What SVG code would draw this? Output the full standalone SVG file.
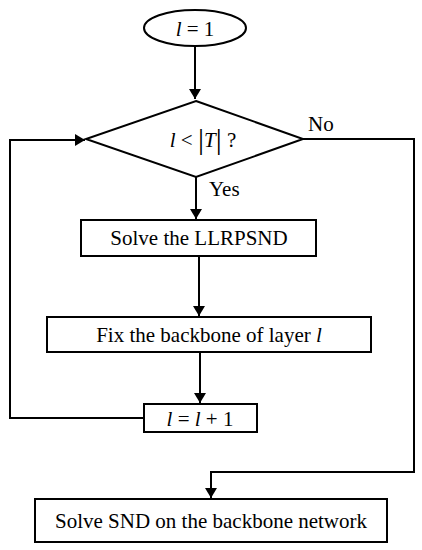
<svg xmlns="http://www.w3.org/2000/svg" width="422" height="550" viewBox="0 0 422 550">
<style>
.s{fill:#fff;stroke:#000;stroke-width:2}
.t{font-family:"Liberation Serif","Times New Roman",serif;font-size:21px;fill:#000}
.i{font-style:italic}
.c{fill:none;stroke:#000;stroke-width:2}
</style>
<defs>
<marker id="a" markerWidth="10" markerHeight="12" refX="10" refY="6" orient="auto" markerUnits="userSpaceOnUse">
<path d="M0,0 L10,6 L0,12 Z" fill="#000"/>
</marker>
</defs>
<g id="connectors">
<path class="c" d="M195,46 V99" marker-end="url(#a)"/>
<path class="c" d="M196,177 V219" marker-end="url(#a)"/>
<path class="c" d="M199,256 V316" marker-end="url(#a)"/>
<path class="c" d="M200,352 V403" marker-end="url(#a)"/>
<path class="c" d="M144,418 H10 V140 H85" marker-end="url(#a)"/>
<path class="c" d="M303,139 H414 V472 H211 V498" marker-end="url(#a)"/>
<text class="t" x="308" y="131" font-size="16">No</text>
<text class="t" x="209" y="196" font-size="16">Yes</text>
</g>
<g id="start">
<ellipse class="s" cx="195" cy="28" rx="51" ry="18"/>
<text class="t" x="195" y="36" text-anchor="middle" font-size="22"><tspan class="i">l</tspan> = 1</text>
</g>
<g id="decision">
<polygon class="s" points="196,101 303,139 196,177 86,139"/>
<text class="t" x="203" y="147" text-anchor="middle" font-size="22"><tspan class="i">l</tspan> &lt; <tspan font-size="30" dy="2">|</tspan><tspan class="i" dy="-2">T</tspan><tspan font-size="30" dy="2">|</tspan><tspan dy="-2">  ?</tspan></text>
</g>
<g id="solve">
<rect class="s" x="81" y="220" width="235" height="36"/>
<text class="t" x="199" y="245" text-anchor="middle">Solve the LLRPSND</text>
</g>
<g id="fix">
<rect class="s" x="47" y="317" width="324" height="35"/>
<text class="t" x="209" y="342" text-anchor="middle">Fix the backbone of layer <tspan class="i">l</tspan></text>
</g>
<g id="inc">
<rect class="s" x="144" y="404" width="113" height="28"/>
<text class="t" x="200" y="426" text-anchor="middle"><tspan class="i">l</tspan> = <tspan class="i">l</tspan> + 1</text>
</g>
<g id="end">
<rect class="s" x="35" y="499" width="352" height="43"/>
<text class="t" x="211" y="528" text-anchor="middle">Solve SND on the backbone network</text>
</g>
</svg>
